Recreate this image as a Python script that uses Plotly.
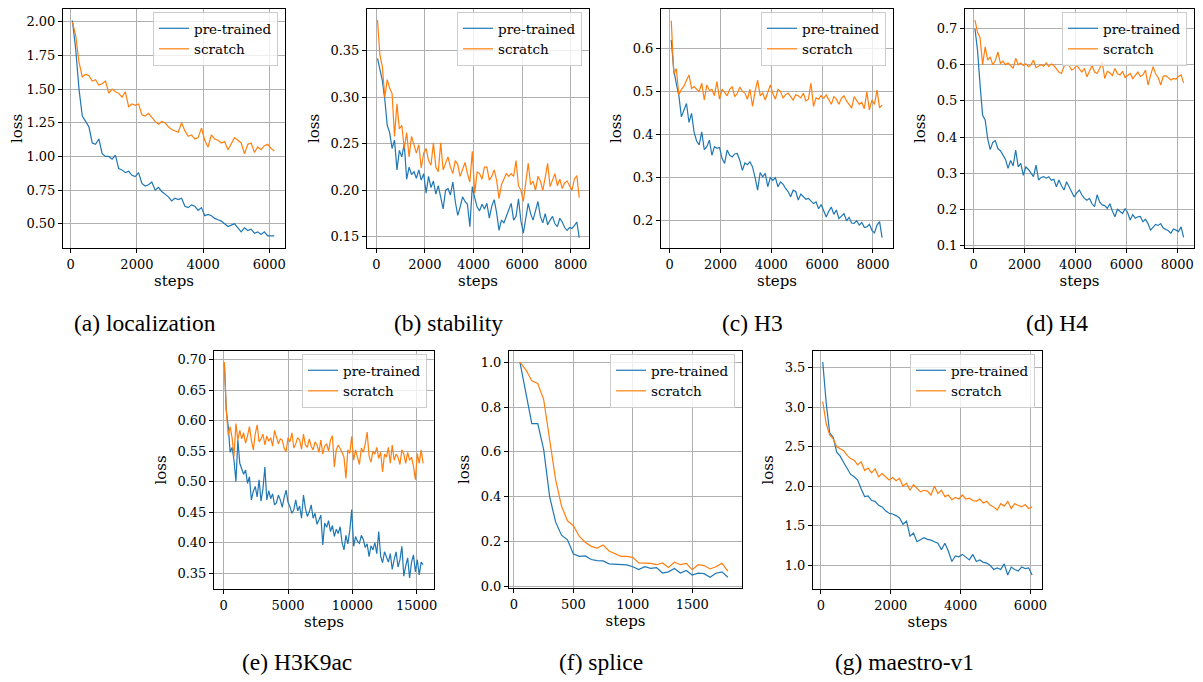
import plotly.graph_objects as go

# page body has an 8px margin: figure is sized to the window minus it and
# every screen position below is converted to figure coordinates (px - 8)
OFF = 8
W, H = 1203 - OFF, 682 - OFF

# ---------------- data ----------------
# (a) localization : steps 50, 150, ..., 6150
pre_a = [2.01, 1.80, 1.50, 1.30, 1.26, 1.22, 1.10, 1.09, 1.13, 1.02,
         1.00, 1.00, 0.98, 1.01, 0.91, 0.90, 0.88, 0.89, 0.86, 0.85,
         0.88, 0.80, 0.78, 0.79, 0.81, 0.75, 0.77, 0.74, 0.72, 0.70,
         0.67, 0.69, 0.68, 0.69, 0.63, 0.62, 0.64, 0.63, 0.60, 0.62,
         0.56, 0.57, 0.56, 0.54, 0.53, 0.52, 0.50, 0.48, 0.49, 0.50,
         0.47, 0.44, 0.47, 0.45, 0.46, 0.43, 0.44, 0.42, 0.44, 0.41,
         0.41, 0.41]
scratch_a = [2.00, 1.90, 1.70, 1.59, 1.61, 1.60, 1.56, 1.57, 1.53, 1.54,
             1.56, 1.47, 1.50, 1.48, 1.47, 1.44, 1.48, 1.37, 1.39, 1.38,
             1.39, 1.31, 1.30, 1.32, 1.29, 1.26, 1.24, 1.26, 1.25, 1.22,
             1.20, 1.19, 1.18, 1.25, 1.19, 1.15, 1.16, 1.13, 1.14, 1.21,
             1.12, 1.07, 1.16, 1.13, 1.12, 1.10, 1.11, 1.05, 1.09, 1.14,
             1.12, 1.10, 1.02, 1.09, 1.10, 1.03, 1.07, 1.05, 1.08, 1.09,
             1.06, 1.04]

# (b) stability : steps 50, 150, ..., 8350
pre_b = [0.342, 0.330, 0.318, 0.298, 0.270, 0.262, 0.245, 0.254, 0.222, 0.243,
         0.236, 0.250, 0.212, 0.225, 0.217, 0.220, 0.213, 0.222, 0.211, 0.218,
         0.197, 0.215, 0.203, 0.210, 0.196, 0.205, 0.193, 0.180, 0.200, 0.202,
         0.195, 0.209, 0.188, 0.173, 0.182, 0.193, 0.188, 0.185, 0.161, 0.204,
         0.192, 0.182, 0.178, 0.185, 0.180, 0.186, 0.170, 0.183, 0.190, 0.176,
         0.157, 0.168, 0.165, 0.172, 0.180, 0.186, 0.168, 0.172, 0.191, 0.167,
         0.154, 0.172, 0.186, 0.175, 0.168, 0.178, 0.188, 0.172, 0.165, 0.175,
         0.163, 0.168, 0.172, 0.164, 0.161, 0.170, 0.166, 0.160, 0.157, 0.160,
         0.159, 0.162, 0.166, 0.149]
scratch_b = [0.383, 0.345, 0.333, 0.300, 0.319, 0.310, 0.304, 0.258, 0.293, 0.266,
             0.270, 0.245, 0.262, 0.236, 0.258, 0.250, 0.240, 0.249, 0.224, 0.240,
             0.245, 0.232, 0.227, 0.251, 0.225, 0.220, 0.251, 0.222, 0.230, 0.236,
             0.225, 0.218, 0.232, 0.228, 0.215, 0.222, 0.230, 0.218, 0.209, 0.242,
             0.197, 0.220, 0.218, 0.212, 0.225, 0.225, 0.211, 0.215, 0.222, 0.211,
             0.191, 0.206, 0.212, 0.218, 0.215, 0.218, 0.215, 0.232, 0.205, 0.200,
             0.188, 0.209, 0.229, 0.206, 0.210, 0.200, 0.215, 0.210, 0.200, 0.214,
             0.229, 0.204, 0.210, 0.218, 0.205, 0.212, 0.202, 0.208, 0.210, 0.205,
             0.200, 0.212, 0.216, 0.192]

# (c) H3 : steps 60, 160, ..., 8360
pre_c = [0.619, 0.550, 0.518, 0.490, 0.441, 0.457, 0.472, 0.428, 0.449, 0.405,
         0.385, 0.376, 0.406, 0.365, 0.372, 0.387, 0.352, 0.372, 0.368, 0.370,
         0.345, 0.333, 0.364, 0.352, 0.348, 0.355, 0.356, 0.340, 0.317, 0.334,
         0.330, 0.337, 0.325, 0.300, 0.271, 0.312, 0.302, 0.310, 0.279, 0.300,
         0.294, 0.300, 0.279, 0.290, 0.285, 0.275, 0.268, 0.256, 0.271, 0.268,
         0.248, 0.262, 0.256, 0.250, 0.252, 0.245, 0.240, 0.244, 0.228, 0.238,
         0.225, 0.209, 0.222, 0.232, 0.215, 0.225, 0.205, 0.212, 0.217, 0.200,
         0.208, 0.195, 0.194, 0.200, 0.190, 0.196, 0.185, 0.186, 0.192, 0.178,
         0.172, 0.190, 0.198, 0.161]
scratch_c = [0.664, 0.540, 0.553, 0.492, 0.505, 0.512, 0.526, 0.538, 0.507, 0.511,
             0.505, 0.500, 0.519, 0.480, 0.515, 0.502, 0.505, 0.490, 0.523, 0.482,
             0.505, 0.496, 0.490, 0.505, 0.511, 0.488, 0.495, 0.510, 0.500, 0.496,
             0.482, 0.505, 0.465, 0.500, 0.526, 0.490, 0.496, 0.480, 0.500, 0.515,
             0.495, 0.482, 0.505, 0.500, 0.485, 0.492, 0.496, 0.488, 0.480, 0.492,
             0.490, 0.485, 0.496, 0.478, 0.482, 0.519, 0.465, 0.485, 0.482, 0.490,
             0.484, 0.492, 0.480, 0.470, 0.488, 0.482, 0.470, 0.484, 0.490, 0.478,
             0.470, 0.461, 0.488, 0.480, 0.470, 0.475, 0.460, 0.499, 0.457, 0.480,
             0.470, 0.503, 0.462, 0.468]

# (d) H4 : steps 50, 150, ..., 8250
pre_d = [0.700, 0.640, 0.545, 0.460, 0.447, 0.395, 0.365, 0.385, 0.390, 0.368,
         0.362, 0.350, 0.338, 0.313, 0.335, 0.320, 0.364, 0.317, 0.327, 0.294,
         0.317, 0.310, 0.300, 0.290, 0.322, 0.281, 0.288, 0.290, 0.286, 0.290,
         0.280, 0.283, 0.262, 0.281, 0.265, 0.253, 0.276, 0.262, 0.248, 0.234,
         0.245, 0.253, 0.240, 0.230, 0.225, 0.230, 0.215, 0.207, 0.240, 0.220,
         0.212, 0.210, 0.202, 0.215, 0.195, 0.179, 0.200, 0.195, 0.188, 0.202,
         0.190, 0.170, 0.185, 0.175, 0.179, 0.180, 0.165, 0.172, 0.160, 0.142,
         0.150, 0.158, 0.155, 0.160, 0.148, 0.145, 0.140, 0.133, 0.145, 0.142,
         0.138, 0.151, 0.122]
scratch_d = [0.724, 0.690, 0.675, 0.600, 0.650, 0.613, 0.622, 0.600, 0.612, 0.636,
             0.604, 0.610, 0.600, 0.605, 0.598, 0.590, 0.618, 0.600, 0.605, 0.598,
             0.603, 0.595, 0.600, 0.613, 0.592, 0.595, 0.600, 0.596, 0.605, 0.595,
             0.602, 0.598, 0.590, 0.580, 0.576, 0.596, 0.600, 0.598, 0.585, 0.590,
             0.598, 0.588, 0.580, 0.590, 0.567, 0.582, 0.598, 0.580, 0.576, 0.590,
             0.608, 0.562, 0.582, 0.578, 0.570, 0.590, 0.575, 0.572, 0.582, 0.565,
             0.570, 0.576, 0.562, 0.570, 0.580, 0.568, 0.572, 0.585, 0.544, 0.570,
             0.595, 0.575, 0.565, 0.544, 0.568, 0.570, 0.565, 0.558, 0.562, 0.560,
             0.568, 0.572, 0.550]

# (e) H3K9ac : steps 50, 200, ..., 15500
pre_e = [0.693, 0.617, 0.590, 0.548, 0.556, 0.535, 0.500, 0.568, 0.530, 0.522,
         0.512, 0.519, 0.497, 0.508, 0.470, 0.484, 0.492, 0.475, 0.503, 0.468,
         0.488, 0.524, 0.470, 0.485, 0.472, 0.480, 0.462, 0.465, 0.478, 0.470,
         0.458, 0.474, 0.486, 0.466, 0.459, 0.448, 0.454, 0.470, 0.452, 0.460,
         0.440, 0.478, 0.456, 0.443, 0.450, 0.462, 0.440, 0.448, 0.430, 0.437,
         0.445, 0.396, 0.432, 0.425, 0.436, 0.418, 0.428, 0.410, 0.422, 0.415,
         0.426, 0.400, 0.388, 0.412, 0.398, 0.420, 0.454, 0.394, 0.410, 0.402,
         0.399, 0.412, 0.405, 0.392, 0.398, 0.377, 0.395, 0.388, 0.400, 0.382,
         0.418, 0.378, 0.367, 0.385, 0.375, 0.368, 0.382, 0.356, 0.372, 0.385,
         0.360, 0.372, 0.394, 0.345, 0.362, 0.375, 0.342, 0.368, 0.380, 0.352,
         0.372, 0.347, 0.368, 0.364]
scratch_e = [0.696, 0.617, 0.576, 0.590, 0.572, 0.541, 0.595, 0.568, 0.584, 0.570,
             0.580, 0.563, 0.575, 0.590, 0.568, 0.552, 0.578, 0.593, 0.565, 0.570,
             0.578, 0.560, 0.575, 0.566, 0.572, 0.558, 0.584, 0.574, 0.562, 0.570,
             0.568, 0.555, 0.549, 0.572, 0.565, 0.580, 0.555, 0.562, 0.572, 0.568,
             0.553, 0.578, 0.560, 0.556, 0.570, 0.558, 0.552, 0.565, 0.560, 0.548,
             0.568, 0.545, 0.558, 0.562, 0.550, 0.568, 0.575, 0.524, 0.552, 0.560,
             0.555, 0.548, 0.540, 0.505, 0.552, 0.546, 0.574, 0.535, 0.552, 0.540,
             0.528, 0.555, 0.548, 0.562, 0.581, 0.542, 0.532, 0.550, 0.545, 0.556,
             0.538, 0.548, 0.516, 0.545, 0.540, 0.556, 0.530, 0.560, 0.535, 0.545,
             0.540, 0.528, 0.552, 0.545, 0.530, 0.548, 0.535, 0.540, 0.525, 0.503,
             0.546, 0.530, 0.552, 0.530]

# (f) splice : steps 50, 100, ..., 1800
pre_f = [1.000, 0.862, 0.726, 0.726, 0.610, 0.400, 0.287, 0.228, 0.207, 0.144,
         0.133, 0.135, 0.119, 0.114, 0.113, 0.100, 0.098, 0.096, 0.095, 0.087,
         0.074, 0.087, 0.080, 0.083, 0.059, 0.064, 0.079, 0.059, 0.070, 0.050,
         0.058, 0.056, 0.040, 0.058, 0.064, 0.040]
scratch_f = [1.000, 0.966, 0.917, 0.905, 0.833, 0.655, 0.477, 0.358, 0.292, 0.270,
             0.222, 0.196, 0.178, 0.170, 0.184, 0.157, 0.144, 0.133, 0.133, 0.129,
             0.104, 0.104, 0.102, 0.096, 0.104, 0.084, 0.107, 0.096, 0.102, 0.074,
             0.096, 0.092, 0.077, 0.087, 0.102, 0.067]

# (g) maestro-v1 : steps 50, 150, ..., 6050
pre_g = [3.57, 3.05, 2.67, 2.62, 2.43, 2.38, 2.30, 2.22, 2.15, 2.12,
         2.08, 1.97, 1.87, 1.88, 1.82, 1.81, 1.76, 1.74, 1.69, 1.66,
         1.65, 1.63, 1.60, 1.52, 1.56, 1.37, 1.41, 1.30, 1.32, 1.35,
         1.33, 1.32, 1.30, 1.28, 1.20, 1.28, 1.18, 1.05, 1.12, 1.11,
         1.14, 1.10, 1.07, 1.14, 1.05, 1.07, 1.04, 1.03, 1.00, 0.95,
         0.97, 0.95, 1.02, 0.88, 0.98, 0.95, 0.93, 0.98, 0.96, 0.97,
         0.88]
scratch_g = [3.07, 2.79, 2.65, 2.60, 2.50, 2.47, 2.45, 2.39, 2.35, 2.33,
             2.27, 2.31, 2.20, 2.23, 2.17, 2.22, 2.12, 2.16, 2.12, 2.08,
             2.11, 2.07, 2.10, 2.00, 2.04, 1.95, 2.02, 1.98, 1.93, 1.95,
             1.94, 1.89, 2.00, 1.91, 1.95, 1.87, 1.89, 1.83, 1.86, 1.84,
             1.89, 1.84, 1.85, 1.82, 1.81, 1.84, 1.79, 1.81, 1.76, 1.74,
             1.70, 1.78, 1.75, 1.81, 1.72, 1.78, 1.76, 1.74, 1.77, 1.72,
             1.74]

captions = ["(a) localization", "(b) stability", "(c) H3", "(d) H4",
            "(e) H3K9ac", "(f) splice", "(g) maestro-v1"]
series_names = ["pre-trained", "scratch"]

xticks_8k = [0, 2000, 4000, 6000, 8000]
xticks_6k = [0, 2000, 4000, 6000]
xticks_15k = [0, 5000, 10000, 15000]
xticks_f = [0, 500, 1000, 1500]
yticks_a = [0.50, 0.75, 1.00, 1.25, 1.50, 1.75, 2.00]
yticks_b = [0.15, 0.20, 0.25, 0.30, 0.35]
yticks_c = [0.2, 0.3, 0.4, 0.5, 0.6]
yticks_d = [0.1, 0.2, 0.3, 0.4, 0.5, 0.6, 0.7]
yticks_e = [0.35, 0.40, 0.45, 0.50, 0.55, 0.60, 0.65, 0.70]
yticks_f = [0.0, 0.2, 0.4, 0.6, 0.8, 1.0]
yticks_g = [1.0, 1.5, 2.0, 2.5, 3.0, 3.5]

# ---------------- layout / styling ----------------
panels = [
    # pre, scratch, x0, dx, xticks, yticks, ydec, xrange, yrange, screen box(l, r, t, b), caption centre
    (pre_a, scratch_a, 50, 100, xticks_6k, yticks_a, 2, [-233, 6474], [0.32, 2.095], (63, 285, 9, 248), (145, 323)),
    (pre_b, scratch_b, 50, 100, xticks_8k, yticks_b, 2, [-382, 8751], [0.138, 0.395], (367, 589, 9, 248), (449, 323)),
    (pre_c, scratch_c, 60, 100, xticks_8k, yticks_c, 1, [-343, 8789], [0.137, 0.691], (661, 893, 9, 248), (752, 323)),
    (pre_d, scratch_d, 50, 100, xticks_8k, yticks_d, 1, [-342, 8658], [0.0925, 0.7546], (965, 1194, 9, 248), (1057, 323)),
    (pre_e, scratch_e, 50, 150, xticks_15k, yticks_e, 2, [-755, 16347], [0.324, 0.714], (214, 434, 351, 589), (297, 662)),
    (pre_f, scratch_f, 50, 50, xticks_f, yticks_f, 1, [-42, 1919], [-0.008, 1.05], (509, 742, 351, 588), (601, 662)),
    (pre_g, scratch_g, 50, 100, xticks_6k, yticks_g, 1, [-229, 6332], [0.703, 3.709], (813, 1042, 351, 589), (904, 662)),
]

colors = ["#1f77b4", "#ff7f0e"]
tick_font = dict(family="DejaVu Serif", size=13, color="black")
label_font = dict(family="DejaVu Serif", size=15, color="black")
legend_font = dict(family="DejaVu Serif", size=13.5, color="black")
caption_font = dict(family="'Times New Roman', 'Liberation Serif', serif", size=23.5, color="black")

fig = go.Figure()
layout = dict(width=W, height=H, margin=dict(l=0, r=0, t=0, b=0, autoexpand=False),
              paper_bgcolor="white", plot_bgcolor="white", annotations=[])


def fx(px):
    return (px - OFF) / W


def fy(py):
    return 1 - (py - OFF) / H


for i, (pre, scr, x0, dx, xt, yt, ydec, xr, yr, box, cap) in enumerate(panels):
    k = i + 1
    xa = "x" if k == 1 else f"x{k}"
    ya = "y" if k == 1 else f"y{k}"
    lg = "legend" if k == 1 else f"legend{k}"
    l, r, t, b = box
    for name, vals, col in zip(series_names, [pre, scr], colors):
        xs = [x0 + dx * j for j in range(len(vals))]
        fig.add_trace(go.Scatter(x=xs, y=vals, mode="lines", name=name,
                                 line=dict(color=col, width=1.2),
                                 xaxis=xa, yaxis=ya, legend=lg, showlegend=True))
    common = dict(showgrid=True, gridcolor="#b0b0b0", gridwidth=0.8,
                  showline=True, linecolor="black", linewidth=1, mirror=True,
                  ticks="outside", ticklen=4, tickcolor="black", tickwidth=1,
                  tickfont=tick_font, zeroline=False)
    layout["xaxis" if k == 1 else f"xaxis{k}"] = dict(
        common, domain=[fx(l), fx(r)], anchor=ya, range=xr,
        tickvals=xt, ticktext=[str(v) for v in xt],
        title=dict(text="steps", font=label_font, standoff=0))
    layout["yaxis" if k == 1 else f"yaxis{k}"] = dict(
        common, domain=[fy(b), fy(t)], anchor=xa, range=yr,
        tickvals=yt, ticktext=[f"{v:.{ydec}f}" for v in yt],
        title=dict(text="loss", font=label_font, standoff=7))
    layout[lg] = dict(x=fx(r - 7), y=fy(t + 3), xanchor="right", yanchor="top",
                      bgcolor="rgba(255,255,255,0.8)", bordercolor="#cccccc",
                      borderwidth=1, font=legend_font)
    layout["annotations"].append(dict(
        text=captions[i], x=fx(cap[0]), y=fy(cap[1]), xref="paper", yref="paper",
        xanchor="center", yanchor="middle", showarrow=False, font=caption_font))

fig.update_layout(**layout)
fig.write_html("out.html")
